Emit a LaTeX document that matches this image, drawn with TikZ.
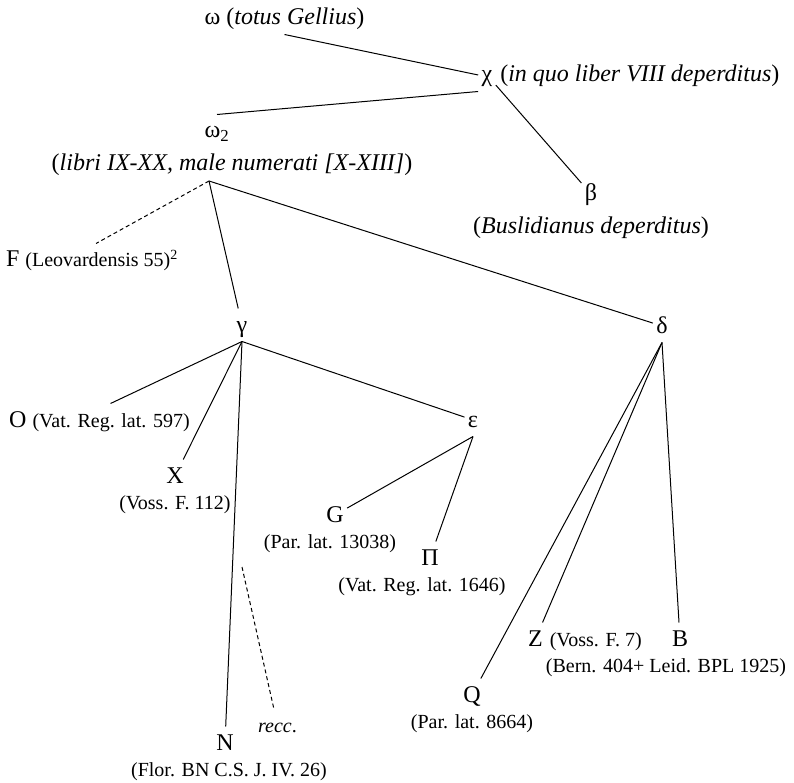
\documentclass[tikz,border=0pt]{standalone}
\usepackage{fontspec}
\setmainfont{Liberation Serif}
\usepackage{tikz}
\usetikzlibrary{positioning}
\NewDocumentCommand{\shelf}{m}{{\fontsize{20}{24}\selectfont #1}}

\begin{document}
\begin{tikzpicture}[x=1pt, y=-1pt, node distance={1pt}, line width=1pt,
                        font=\fontsize{24}{28}\selectfont,
                        sig/.style = {anchor=base, inner sep=3pt,
                        text height=20pt, text depth=6pt},
                        note/.style = {inner sep=2pt},
                        uncertain/.style = {dash pattern=on 4pt off 3pt}]
        \useasboundingbox (0,0) rectangle (794,783);

        \node[sig] (omega) at (284.5,25) {ω (\textit{totus Gellius})};

        \node[sig] (chi) at (487,82) {χ};
        \node[note] (chi-note) [base right=2pt of chi] {(\textit{in quo liber VIII deperditus})};

        \node[sig] (beta) at (591,201) {β};
        \node[note] (beta-note) [below=4pt of beta] {(\textit{Buslidianus deperditus})};

        \node[sig] (omega2) at (217,138) {ω\textsubscript{2}};
        \node[note] (omega2-note) [below=4pt of omega2, xshift=15pt] {(\textit{libri IX-XX, male numerati [X-XIII]})};
        \coordinate (omega2-foot) at (209,181);

        \node[sig] (F) at (92,267) {F \shelf{(Leovardensis 55)\textsuperscript{2}}};

        \node[sig] (gamma) at (242,332) {γ};

        \node[sig] (delta) at (662,333) {δ};

        \node[sig] (O) at (99.5,427) {O \shelf{(Vat. Reg. lat. 597)}};

        \node[sig] (X) at (175,483) {X};
        \node[note] (X-note) [below=1pt of X] {\shelf{(Voss. F. 112)}};

        \node[sig] (epsilon) at (473,427) {ε};

        \node[sig] (G) at (335,522) {G};
        \node[note] (G-note) [below=1pt of G, xshift=-5pt] {\shelf{(Par. lat. 13038)}};

        \node[sig] (Pi) at (430,565) {Π};
        \node[note] (Pi-note) [below=1pt of Pi, xshift=-8pt] {\shelf{(Vat. Reg. lat. 1646)}};

        \node[sig] (Z) at (535.5,646) {Z};
        \node[note] (Z-note) [base right=1pt of Z] {\shelf{(Voss. F. 7)}};

        \node[sig] (B) at (680,646) {B};
        \node[note] (B-note) [below=1pt of B, xshift=-14pt] {\shelf{(Bern. 404+ Leid. BPL 1925)}};

        \node[sig] (Q) at (472,702) {Q};
        \node[note] (Q-note) [below=1pt of Q] {\shelf{(Par. lat. 8664)}};

        \node[sig] (N) at (225,750) {N};
        \node[note] (N-note) [below=1pt of N, xshift=4pt] {\shelf{(Flor. BN C.S. J. IV. 26)}};

        \node[sig] (recc) at (277.5,732) {\shelf{\textit{recc}.}};
        \coordinate (recc-top) at (242,567);

        \draw (omega.south) -- (chi.west);
        \draw (omega2.north) -- (chi.south west);
        \draw (chi) -- (beta);
        \draw[uncertain] (omega2-foot) -- ([xshift=4pt]F.north);
        \draw (omega2-foot) -- (gamma);
        \draw (omega2-foot) -- (delta);
        \draw (gamma.south) -- ([xshift=11pt]O.north);
        \draw (gamma.south) -- (X);
        \draw (gamma.south) -- (N);
        \draw (gamma.south) -- (epsilon);
        \draw (epsilon.south) -- (G);
        \draw (epsilon.south) -- (Pi);
        \draw (delta.south) -- (Q);
        \draw (delta.south) -- (Z);
        \draw (delta.south) -- (B);
        \draw[uncertain] (recc-top) -- (recc);
    \end{tikzpicture}
\end{document}
